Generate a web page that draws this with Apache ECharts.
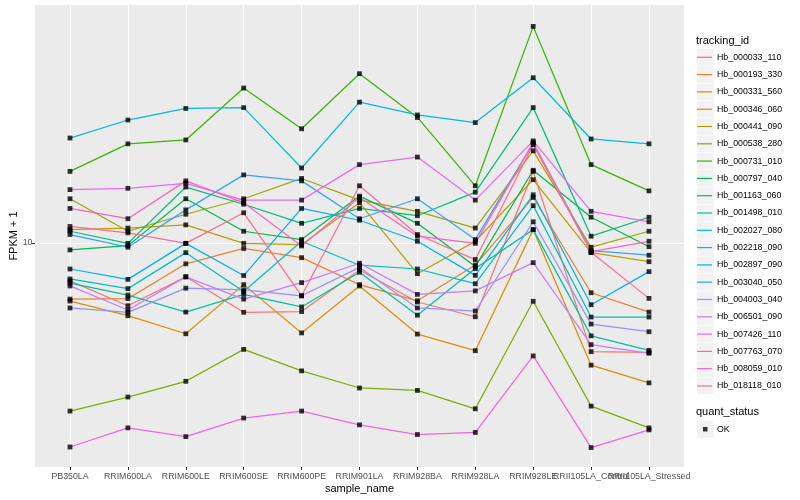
<!DOCTYPE html>
<html><head><meta charset="utf-8">
<script src="https://cdn.jsdelivr.net/npm/echarts@6/dist/echarts.min.js"></script>
<style>html,body{margin:0;padding:0;background:#fff}#c{width:800px;height:500px}</style>
</head><body><div id="c"></div>
<script>
const categories = ['PB350LA','RRIM600LA','RRIM600LE','RRIM600SE','RRIM600PE','RRIM901LA','RRIM928BA','RRIM928LA','RRIM928LE','RRII105LA_Control','RRII105LA_Stressed'];
const trackingIds = ['Hb_000033_110','Hb_000193_330','Hb_000331_560','Hb_000346_060','Hb_000441_090','Hb_000538_280','Hb_000731_010','Hb_000797_040','Hb_001163_060','Hb_001498_010','Hb_002027_080','Hb_002218_090','Hb_002897_090','Hb_003040_050','Hb_004003_040','Hb_006501_090','Hb_007426_110','Hb_007763_070','Hb_008059_010','Hb_018118_010'];
const quantStatus = ['OK'];
const yTicks = [10];

const hb_000033_110 = [8.04, 6.97, 8.23, 6.71, 6.74, 8.56, 7.12, 6.54, 15.1, 5.35, 5.33];
const hb_000193_330 = [7.24, 7.26, 8.87, 9.69, 9.19, 7.87, 7.17, 8.81, 13.0, 7.51, 6.72];
const hb_000331_560 = [7.16, 6.58, 5.93, 7.87, 5.96, 7.81, 5.92, 5.38, 10.8, 4.95, 4.47];
const hb_000346_060 = [10.8, 10.9, 11.1, 9.98, 9.91, 12.6, 8.38, 10.1, 14.4, 9.46, 8.98];
const hb_000441_090 = [12.9, 10.7, 11.8, 12.9, 14.5, 12.8, 12.0, 10.9, 17.0, 9.76, 10.7];
const hb_000538_280 = [3.80, 4.12, 4.51, 5.42, 4.79, 4.34, 4.28, 3.85, 7.15, 3.91, 3.45];
const hb_000731_010 = [15.1, 17.7, 18.1, 24.4, 19.3, 26.5, 20.6, 13.9, 34.8, 15.7, 13.5];
const hb_000797_040 = [9.61, 9.85, 12.9, 10.7, 10.2, 13.1, 11.2, 8.73, 15.2, 11.6, 9.79];
const hb_001163_060 = [10.7, 9.98, 13.8, 12.5, 11.2, 12.2, 11.7, 13.4, 21.8, 10.4, 11.6];
const hb_001498_010 = [7.94, 7.41, 6.72, 7.44, 6.92, 8.45, 6.60, 8.63, 10.8, 5.86, 5.39];
const hb_002027_080 = [8.13, 7.69, 9.46, 7.56, 10.1, 8.80, 8.61, 7.91, 12.4, 6.53, 6.53];
const hb_002218_090 = [18.3, 20.3, 21.7, 21.8, 15.4, 22.5, 20.9, 20.0, 25.9, 18.2, 17.7];
const hb_002897_090 = [8.61, 8.11, 9.98, 8.29, 12.2, 11.4, 10.1, 8.30, 13.2, 7.01, 8.48];
const hb_003040_050 = [10.5, 9.76, 12.1, 14.8, 14.3, 11.5, 12.9, 10.2, 17.8, 9.57, 9.32];
const hb_004003_040 = [6.88, 6.71, 7.71, 7.64, 7.38, 8.69, 6.88, 6.76, 11.3, 6.27, 6.00];
const hb_006501_090 = [7.81, 6.80, 8.23, 7.24, 7.96, 8.90, 7.44, 7.59, 8.93, 5.57, 5.30];
const hb_007426_110 = [13.6, 13.7, 14.1, 12.8, 12.8, 15.7, 16.4, 12.8, 18.0, 12.0, 11.3];
const hb_007763_070 = [3.09, 3.45, 3.28, 3.65, 3.80, 3.51, 3.32, 3.36, 5.22, 3.08, 3.41];
const hb_008059_010 = [12.2, 11.5, 14.3, 12.6, 9.83, 13.0, 10.4, 9.98, 17.8, 9.51, 10.1];
const hb_018118_010 = [11.0, 10.6, 9.98, 11.9, 7.38, 13.9, 10.5, 9.09, 17.6, 9.48, 7.27];

const seriesValues = [hb_000033_110, hb_000193_330, hb_000331_560, hb_000346_060, hb_000441_090, hb_000538_280, hb_000731_010, hb_000797_040, hb_001163_060, hb_001498_010, hb_002027_080, hb_002218_090, hb_002897_090, hb_003040_050, hb_004003_040, hb_006501_090, hb_007426_110, hb_007763_070, hb_008059_010, hb_018118_010];

const palette = ['#F8766D','#EA8331','#D89000','#C09B00','#A3A500','#7CAE00','#39B600','#00BB4E','#00BF7D','#00C1A3','#00BFC4','#00BAE0','#00B0F6','#35A2FF','#9590FF','#C77CFF','#E76BF3','#FA62DB','#FF62BC','#FF6C91'];
const FONT = '"Liberation Sans", Arial, Helvetica, sans-serif';
const yMin = 2.754, yMax = 39.36;

const chart = echarts.init(document.getElementById('c'));

const lineSeries = trackingIds.map((id, k) => ({
  name: id, type: 'line', xAxisIndex: 0, yAxisIndex: 0,
  data: seriesValues[k], symbol: 'none', showSymbol: false,
  lineStyle: {color: palette[k], width: 1.25},
  itemStyle: {color: palette[k]},
  emphasis: {disabled: true}, z: 2
}));
const points = [];
seriesValues.forEach(vals => vals.forEach((v, i) => points.push([i, v])));
const pointSeries = {
  name: quantStatus[0], type: 'scatter', xAxisIndex: 0, yAxisIndex: 0,
  data: points, symbol: 'rect', symbolSize: 4.8,
  itemStyle: {color: '#000'}, emphasis: {disabled: true}, z: 3
};

const keyBoxes = trackingIds.map((id, k) => ({
  type: 'rect', silent: true,
  shape: {x: 697, y: 48.9 + 17.3 * k, width: 16.5, height: 16.8},
  style: {fill: '#F2F2F2'}
}));
keyBoxes.push({type: 'rect', silent: true, shape: {x: 697, y: 420.8, width: 16.5, height: 16.8}, style: {fill: '#F2F2F2'}});

const txt = {fontFamily: FONT, color: '#000', fontSize: 8.8, lineHeight: 14};

chart.setOption({
  animation: false,
  backgroundColor: '#fff',
  title: [
    {text: 'tracking_id', left: 696, top: 34.2, padding: 0, textStyle: {fontFamily: FONT, fontSize: 11, fontWeight: 'normal', color: '#000', lineHeight: 13}},
    {text: 'quant_status', left: 696, top: 405.8, padding: 0, textStyle: {fontFamily: FONT, fontSize: 11, fontWeight: 'normal', color: '#000', lineHeight: 13}}
  ],
  graphic: keyBoxes,
  legend: [
    {orient: 'vertical', left: 697, top: 50.3, padding: 0, itemWidth: 15, itemHeight: 14, itemGap: 3.3,
     selectedMode: false, textStyle: txt,
     data: trackingIds.map((id, k) => ({name: id, icon: 'path://M0,0h16v1.3h-16z', itemStyle: {color: palette[k]}}))},
    {orient: 'vertical', left: 703, top: 422.2, padding: 0, itemWidth: 4.5, itemHeight: 4.5,
     selectedMode: false, textStyle: Object.assign({}, txt, {padding: [0, 0, 0, 4.5]}),
     data: [{name: quantStatus[0], icon: 'rect', itemStyle: {color: '#000'}}]}
  ],
  grid: [
    {left: 70, right: 151, top: 5, bottom: 33, show: false, containLabel: false, outerBoundsMode: 'none'},
    {left: 35, right: 116, top: 5, bottom: 33, show: true, backgroundColor: '#EBEBEB', borderWidth: 0, containLabel: false, outerBoundsMode: 'none'}
  ],
  xAxis: [
    {type: 'category', gridIndex: 0, data: categories, boundaryGap: false,
     axisLine: {show: false},
     axisTick: {show: true, interval: 0, length: 3, lineStyle: {color: '#333', width: 1}},
     axisLabel: {interval: 0, color: '#4D4D4D', fontSize: 8.8, margin: 5, fontFamily: FONT},
     splitLine: {show: true, interval: 0, lineStyle: {color: '#fff', width: 1.1}},
     name: 'sample_name', nameLocation: 'middle', nameGap: 16, nameMoveOverlap: false,
     nameTextStyle: {fontFamily: FONT, fontSize: 11, color: '#000'}},
    {type: 'value', gridIndex: 1, min: 0, max: 1, show: false}
  ],
  yAxis: [
    {type: 'log', logBase: 10, gridIndex: 0, min: yMin, max: yMax, show: false},
    {type: 'log', logBase: 10, gridIndex: 1, min: yMin, max: yMax,
     axisLine: {show: false},
     axisTick: {show: true, length: 3.5, lineStyle: {color: '#333', width: 1}, customValues: yTicks},
     axisLabel: {customValues: yTicks, color: '#4D4D4D', fontSize: 8.8, margin: 2.5, fontFamily: FONT,
       formatter: v => (yTicks.some(t => Math.abs(v - t) < 1e-6 * t) ? String(Math.round(v)) : '')},
     splitLine: {show: true, lineStyle: {color: '#fff', width: 1.1}},
     name: 'FPKM + 1', nameLocation: 'middle', nameGap: 16, nameMoveOverlap: false,
     nameTextStyle: {fontFamily: FONT, fontSize: 11, color: '#000'}}
  ],
  series: lineSeries.concat([pointSeries])
});
</script>
</body></html>
